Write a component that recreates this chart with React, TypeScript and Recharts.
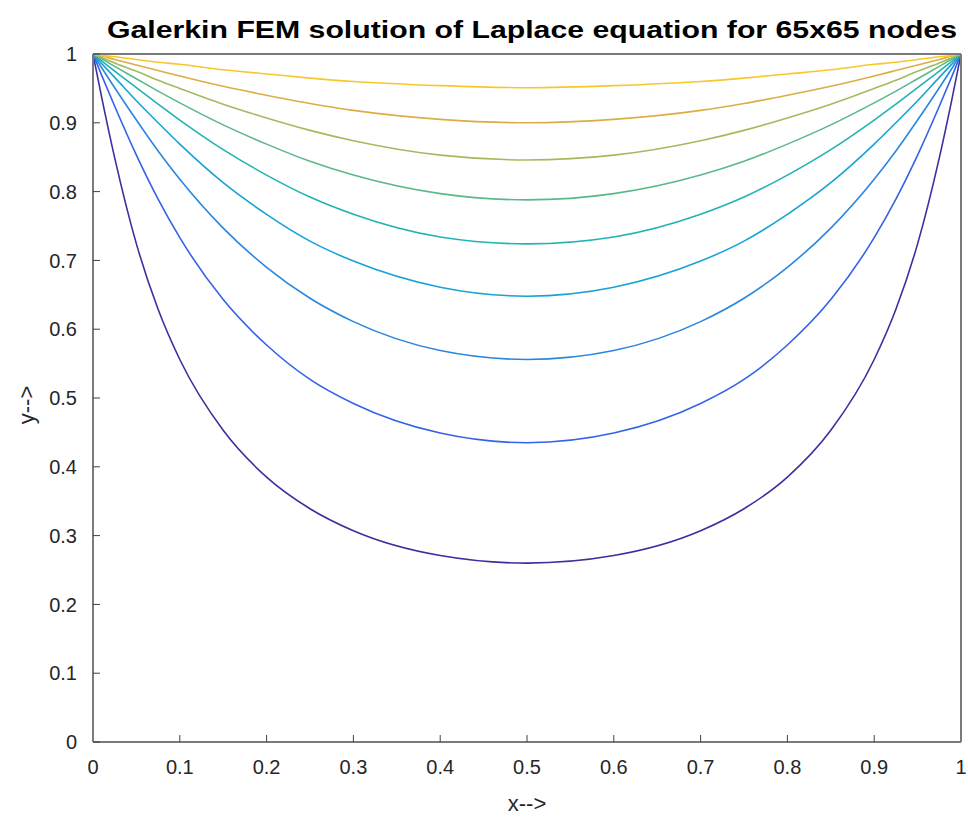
import React from 'react';
import { LineChart, Line, XAxis, YAxis } from 'recharts';

// x positions along the plate (shared by every contour)
const xs = [0, 0.01, 0.025, 0.05, 0.075, 0.1, 0.15, 0.2, 0.25, 0.3, 0.4, 0.5, 0.6, 0.7, 0.75, 0.8, 0.85, 0.9, 0.925, 0.95, 0.975, 0.99, 1];

// y of each contour line
const level1 = [1, 0.937, 0.849, 0.724, 0.629, 0.556, 0.453, 0.385, 0.339, 0.307, 0.271, 0.26, 0.271, 0.307, 0.339, 0.385, 0.453, 0.556, 0.629, 0.724, 0.849, 0.937, 1];
const level2 = [1, 0.969, 0.924, 0.853, 0.789, 0.733, 0.643, 0.577, 0.527, 0.492, 0.449, 0.435, 0.449, 0.492, 0.527, 0.577, 0.643, 0.733, 0.789, 0.853, 0.924, 0.969, 1];
const level3 = [1, 0.98, 0.951, 0.904, 0.859, 0.818, 0.747, 0.69, 0.645, 0.611, 0.569, 0.556, 0.569, 0.611, 0.645, 0.69, 0.747, 0.818, 0.859, 0.904, 0.951, 0.98, 1];
const level4 = [1, 0.986, 0.966, 0.932, 0.9, 0.869, 0.813, 0.767, 0.728, 0.699, 0.661, 0.648, 0.661, 0.699, 0.728, 0.767, 0.813, 0.869, 0.9, 0.932, 0.966, 0.986, 1];
const level5 = [1, 0.99, 0.975, 0.951, 0.927, 0.904, 0.861, 0.824, 0.792, 0.767, 0.734, 0.724, 0.734, 0.767, 0.792, 0.824, 0.861, 0.904, 0.927, 0.951, 0.975, 0.99, 1];
const level6 = [1, 0.993, 0.982, 0.964, 0.946, 0.929, 0.897, 0.869, 0.844, 0.824, 0.797, 0.788, 0.797, 0.824, 0.844, 0.869, 0.897, 0.929, 0.946, 0.964, 0.982, 0.993, 1];
const level7 = [1, 0.995, 0.987, 0.975, 0.962, 0.95, 0.927, 0.907, 0.889, 0.874, 0.853, 0.846, 0.853, 0.874, 0.889, 0.907, 0.927, 0.95, 0.962, 0.975, 0.987, 0.995, 1];
const level8 = [1, 0.997, 0.992, 0.984, 0.976, 0.968, 0.953, 0.94, 0.928, 0.918, 0.905, 0.9, 0.905, 0.918, 0.928, 0.94, 0.953, 0.968, 0.976, 0.984, 0.992, 0.997, 1];
const level9 = [1, 0.998, 0.996, 0.992, 0.988, 0.985, 0.977, 0.971, 0.965, 0.96, 0.954, 0.951, 0.954, 0.96, 0.965, 0.971, 0.977, 0.985, 0.988, 0.992, 0.996, 0.998, 1];

const levels = [level1, level2, level3, level4, level5, level6, level7, level8, level9];
const colors = ['#3d2f9e', '#3462e8', '#2a86df', '#17a3d6', '#21b3b4', '#5ab98a', '#a3bb5e', '#dcad44', '#f6c82c'];

const xTicks = [0, 0.1, 0.2, 0.3, 0.4, 0.5, 0.6, 0.7, 0.8, 0.9, 1];
const yTicks = [0, 0.1, 0.2, 0.3, 0.4, 0.5, 0.6, 0.7, 0.8, 0.9, 1];

const data = xs.map((x, i) => {
  const row: Record<string, number> = { x };
  levels.forEach((lv, k) => {
    row[`c${k}`] = lv[i];
  });
  return row;
});

const font = '"Liberation Sans", Arial, Helvetica, sans-serif';
const tickStyle = { fontSize: 20, fill: '#262626', fontFamily: font };
const boxLine = { stroke: '#7a7a7a', strokeWidth: 2 };
const tickLn = { stroke: '#404040', strokeWidth: 1 };

export default function App() {
  return (
    <div style={{ position: 'absolute', left: 0, top: 0, width: 968, height: 820, background: '#fff' }}>
      <LineChart
        width={968}
        height={820}
        data={data}
        margin={{ top: 49, right: 2, bottom: 38, left: 33 }}
      >
        <XAxis
          dataKey="x"
          type="number"
          domain={[0, 1]}
          ticks={xTicks}
          allowDataOverflow
          height={40}
          tickSize={-7}
          tickMargin={25}
          tick={tickStyle}
          axisLine={boxLine}
          tickLine={tickLn}
        />
        <XAxis
          xAxisId="top"
          orientation="top"
          dataKey="x"
          type="number"
          domain={[0, 1]}
          ticks={xTicks}
          allowDataOverflow
          height={5}
          tickSize={-7}
          tick={false}
          axisLine={boxLine}
          tickLine={tickLn}
        />
        <YAxis
          type="number"
          domain={[0, 1]}
          ticks={yTicks}
          allowDataOverflow
          width={60}
          tickSize={-7}
          tickMargin={23}
          tick={tickStyle}
          axisLine={boxLine}
          tickLine={tickLn}
        />
        <YAxis
          yAxisId="right"
          orientation="right"
          type="number"
          domain={[0, 1]}
          ticks={yTicks}
          allowDataOverflow
          width={5}
          tickSize={-7}
          tick={false}
          axisLine={boxLine}
          tickLine={tickLn}
        />
        {levels.map((_, k) => (
          <Line
            key={k}
            dataKey={`c${k}`}
            type="monotone"
            stroke={colors[k]}
            strokeWidth={1.6}
            dot={false}
            activeDot={false}
            isAnimationActive={false}
          />
        ))}
      </LineChart>
      <svg
        width={968}
        height={820}
        style={{ position: 'absolute', left: 0, top: 0, pointerEvents: 'none' }}
      >
        <text
          x={532}
          y={38}
          textAnchor="middle"
          textLength={850}
          lengthAdjust="spacingAndGlyphs"
          style={{ fontFamily: font, fontWeight: 700, fontSize: 23, fill: '#000' }}
        >
          Galerkin FEM solution of Laplace equation for 65x65 nodes
        </text>
        <text
          x={527}
          y={811}
          textAnchor="middle"
          style={{ fontFamily: font, fontSize: 22, fill: '#262626' }}
        >
          x--&gt;
        </text>
        <text
          x={34}
          y={405}
          textAnchor="middle"
          transform="rotate(-90 34 405)"
          style={{ fontFamily: font, fontSize: 22, fill: '#262626' }}
        >
          y--&gt;
        </text>
      </svg>
    </div>
  );
}
